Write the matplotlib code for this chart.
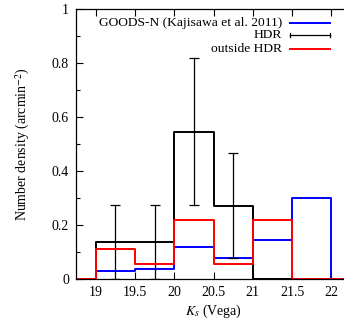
import numpy as np
import matplotlib
matplotlib.use("Agg")
import matplotlib.pyplot as plt

plt.rcParams['font.family'] = ['Liberation Serif', 'DejaVu Serif']
plt.rcParams['mathtext.fontset'] = 'stix'

# bin edges in Ks (Vega) and number densities (arcmin^-2)
edges = [19.0, 19.5, 20.0, 20.5, 21.0, 21.5, 22.0]
goods_n = [0.030, 0.038, 0.117, 0.079, 0.146, 0.300]
hdr = [0.137, 0.137, 0.545, 0.272, 0.0, 0.0]
hdr_err = [0.137, 0.137, 0.272, 0.193, 0.0, 0.0]
outside_hdr = [0.110, 0.055, 0.220, 0.055, 0.220, 0.0]
legend_labels = ['GOODS-N (Kajisawa et al. 2011)', 'HDR', 'outside HDR']

xmin, xmax = 18.75, 22.25

fig = plt.figure(figsize=(3.44, 3.20), dpi=100)
ax = fig.add_axes([76 / 344, 41 / 320, 275 / 344, 270 / 320])


def steps(vals):
    x = [xmin] + edges + [xmax]
    y = [0.0] + list(vals) + [0.0, 0.0]
    return x, y


lw = 1.4
ax.step(*steps(goods_n), where='post', color='#0000ff', lw=lw)
ax.step(*steps(hdr), where='post', color='black', lw=lw)

centers = (np.array(edges[:-1]) + np.array(edges[1:])) / 2
err = np.array(hdr_err)
m = err > 0
ax.errorbar(centers[m], np.array(hdr)[m], yerr=err[m], fmt='none',
            ecolor='black', elinewidth=0.9, capsize=3.5, capthick=0.9)
ax.step(*steps(outside_hdr), where='post', color='#ff0000', lw=lw)

ax.set_xlim(xmin, xmax)
ax.set_ylim(0, 1)
ax.set_xticks(np.arange(19, 22.01, 0.5))
ax.set_xticklabels(['19', '19.5', '20', '20.5', '21', '21.5', '22'])
ax.set_yticks([0, 0.2, 0.4, 0.6, 0.8, 1.0])
ax.set_yticklabels(['0', '0.2', '0.4', '0.6', '0.8', '1'])
ax.set_yticks(np.arange(0.1, 1.0, 0.2), minor=True)
ax.tick_params(which='both', direction='in', top=True, right=True,
               labelsize=10, width=0.8)
ax.tick_params(which='major', length=5, pad=5)
ax.tick_params(which='minor', length=3)
for s in ax.spines.values():
    s.set_linewidth(0.9)

ax.set_xlabel('$K_s$ (Vega)', fontsize=10, labelpad=3)
ax.set_ylabel('Number density (arcmin$^{-2}$)', fontsize=10, labelpad=14)

# legend drawn gnuplot-style: text on the left, sample on the right
rows_y = [0.948, 0.904, 0.852]
x0, x1, xt = 21.47, 21.98, 21.37
colors = ['#0000ff', 'black', '#ff0000']
for lab, yy, c in zip(legend_labels, rows_y, colors):
    ax.text(xt, yy, lab, ha='right', va='center', fontsize=9.7)
    ax.plot([x0, x1], [yy, yy], color=c, lw=lw if c != 'black' else 0.9,
            clip_on=False)
ax.plot([x0, x0], [rows_y[1] - 0.008, rows_y[1] + 0.008], color='black', lw=0.9)
ax.plot([x1, x1], [rows_y[1] - 0.008, rows_y[1] + 0.008], color='black', lw=0.9)

fig.savefig('out.png', dpi=100)
